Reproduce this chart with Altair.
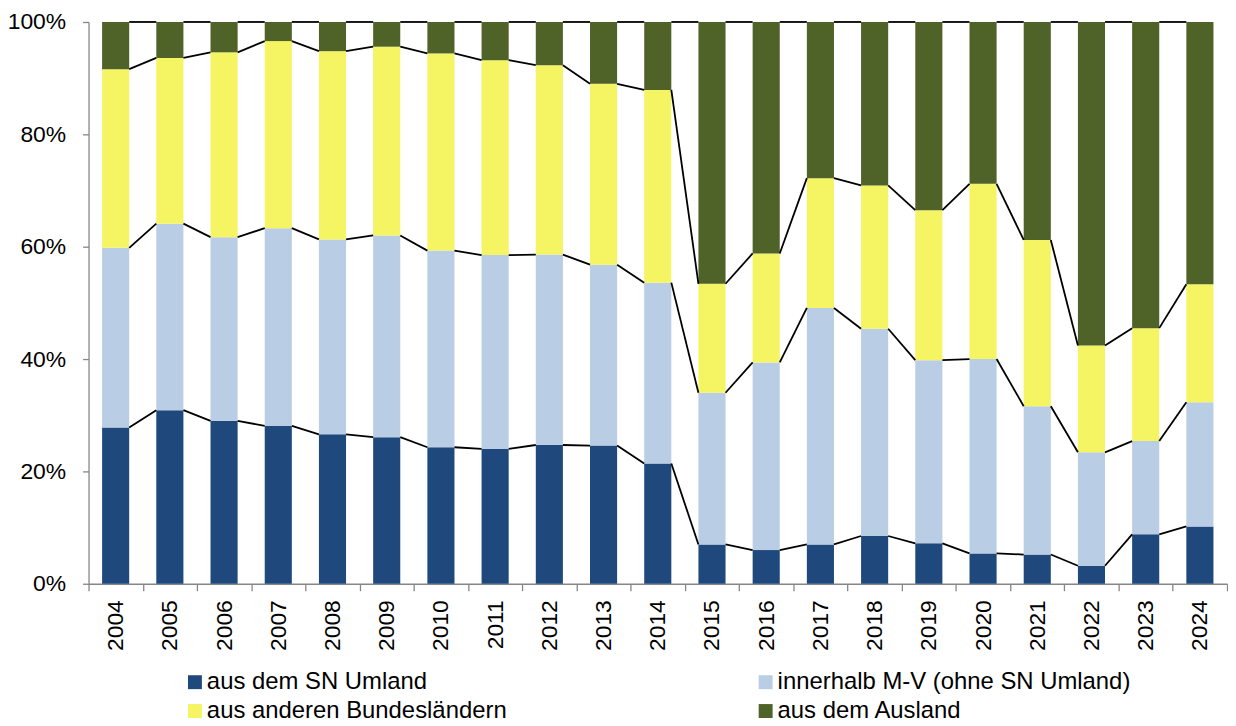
import altair as alt
import pandas as pd

years = ["2004", "2005", "2006", "2007", "2008", "2009", "2010", "2011", "2012", "2013",
         "2014", "2015", "2016", "2017", "2018", "2019", "2020", "2021", "2022", "2023", "2024"]

series = ["aus dem SN Umland", "innerhalb  M-V (ohne SN Umland)",
          "aus anderen Bundesländern", "aus dem Ausland"]

sn_umland = [27.8, 30.9, 29.0, 28.1, 26.6, 26.1, 24.3, 24.0, 24.7, 24.6, 21.4,
             7.0, 6.0, 7.0, 8.5, 7.2, 5.4, 5.2, 3.2, 8.8, 10.2]
innerhalb_mv = [32.0, 33.2, 32.7, 35.2, 34.7, 35.9, 35.0, 34.5, 33.9, 32.2, 32.2,
                27.0, 33.4, 42.1, 36.9, 32.6, 34.6, 26.4, 20.2, 16.6, 22.1]
bundeslaender = [31.8, 29.5, 32.9, 33.3, 33.5, 33.6, 35.1, 34.7, 33.7, 32.2, 34.3,
                 19.4, 19.4, 23.1, 25.5, 26.7, 31.2, 29.6, 19.0, 20.1, 21.0]
ausland = [8.4, 6.4, 5.4, 3.4, 5.2, 4.4, 5.6, 6.8, 7.7, 11.0, 12.1,
           46.6, 41.2, 27.8, 29.1, 33.5, 28.8, 38.8, 57.6, 54.5, 46.7]

colors = ["#1F497D", "#B9CDE5", "#F5F463", "#4F6228"]

# ---- build tables ----
all_vals = [sn_umland, innerhalb_mv, bundeslaender, ausland]
half = 0.25  # half bar width in category units (gap width 100%)
bar_rows = []
tops = {s: [] for s in series}
for i, yr in enumerate(years):
    lo = 0.0
    for s, vals in zip(series, all_vals):
        hi = lo + vals[i]
        bar_rows.append(dict(idx=i, year=yr, series=s, value=vals[i], lo=lo, hi=hi,
                             left=i - half, right=i + half))
        tops[s].append(hi)
        lo = hi
bars = pd.DataFrame(bar_rows)

seg_rows = []
for s in series:
    t = tops[s]
    for i in range(len(years) - 1):
        seg_rows.append(dict(series=s, x=i + half, x2=i + 1 - half, y=t[i], y2=t[i + 1]))
segs = pd.DataFrame(seg_rows)

W, H = 1145, 565
step = W / len(years)
font = "Liberation Sans"
axis_grey = "#868686"

xscale = alt.Scale(domain=[-0.5, len(years) - 0.5], nice=False, zero=False)
yscale = alt.Scale(domain=[0, 100], nice=False)

label_expr = "[" + ",".join("'" + y + "'" for y in years) + "][round(datum.value + 0.5)] || ''"

xaxis = alt.Axis(values=[i - 0.5 for i in range(len(years) + 1)], labelExpr=label_expr,
                 labelOffset=step / 2, labelAngle=270, labelFlush=False, labelOverlap=False,
                 labelBound=False, tickSize=7, tickWidth=1.3, tickColor=axis_grey,
                 domainColor=axis_grey, domainWidth=1.3, labelPadding=9, grid=False,
                 labelFontSize=23, labelFont=font, labelColor="black", title=None)
yaxis = alt.Axis(values=[0, 20, 40, 60, 80, 100], labelExpr="datum.value + '%'",
                 tickSize=6, tickWidth=1.3, tickColor=axis_grey, domainColor=axis_grey,
                 domainWidth=1.3, labelPadding=17, grid=False, labelFontSize=23,
                 labelFont=font, labelColor="black", title=None)

legend = alt.Legend(orient="none", legendX=95, legendY=652, direction="horizontal",
                    columns=2, columnPadding=248, rowPadding=5, symbolType="square",
                    symbolSize=196, symbolStrokeWidth=0, labelFontSize=24, labelFont=font,
                    labelColor="black", labelOffset=0, labelLimit=600, padding=0, title=None)

bar_layer = alt.Chart(bars).mark_rect().encode(
    x=alt.X("left:Q", scale=xscale, axis=xaxis),
    x2="right:Q",
    y=alt.Y("lo:Q", scale=yscale, axis=yaxis),
    y2="hi:Q",
    color=alt.Color("series:N", scale=alt.Scale(domain=series, range=colors), legend=legend),
)

line_layer = alt.Chart(segs).mark_rule(color="black", strokeWidth=1.8).encode(
    x=alt.X("x:Q", scale=xscale, title=None),
    x2="x2:Q",
    y=alt.Y("y:Q", scale=yscale, title=None),
    y2="y2:Q",
)

chart = alt.layer(bar_layer, line_layer).properties(
    width=W, height=H,
    autosize=alt.AutoSizeParams(type="none"),
    padding={"left": 81, "top": 12, "right": 1, "bottom": 141},
    background="white",
).configure_view(stroke=None)

chart.save("out.html", embed_options={"renderer": "svg", "actions": False})
